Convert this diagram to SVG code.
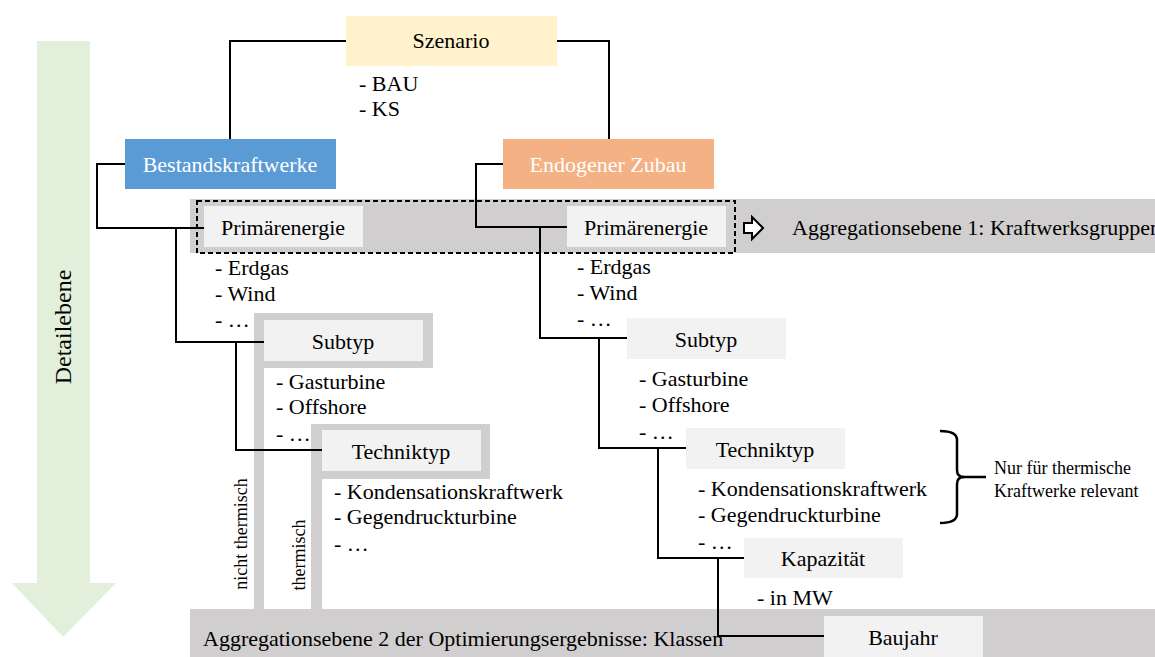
<svg xmlns="http://www.w3.org/2000/svg" width="1155" height="657" viewBox="0 0 1155 657">
  <style>
    text { font-family: "Liberation Serif", "Times New Roman", serif; fill: #000; }
    .t { font-size: 22px; }
    .c { text-anchor: middle; }
    .w { fill: #fff; }
    .s { font-size: 18px; }
    .box { fill: #F2F2F2; }
    .band { fill: #D0CECE; }
    .conn { fill: none; stroke: #000; stroke-width: 2; }
  </style>

  <!-- detail level arrow -->
  <g id="detail-arrow">
    <polygon points="37,41 90,41 90,583 116,583 63,637 12,583 37,583" fill="#E2EFDA"/>
    <text class="t" transform="translate(71,327) rotate(-90)" text-anchor="middle" style="font-size:24px">Detailebene</text>
  </g>

  <!-- aggregation bands -->
  <g id="band-1">
    <rect class="band" x="190" y="199" width="965" height="54"/>
    <rect x="197" y="201" width="538" height="52" fill="none" stroke="#000" stroke-width="2" stroke-dasharray="5,3"/>
    <polygon points="744,223 752,223 752,217 763,228 752,239 752,233 744,233" fill="#fff" stroke="#000" stroke-width="2" stroke-linejoin="miter"/>
    <text class="t" x="792" y="235">Aggregationsebene 1: Kraftwerksgruppen</text>
  </g>
  <g id="band-2">
    <rect class="band" x="190" y="609" width="965" height="48"/>
    <text class="t" x="203" y="646">Aggregationsebene 2 der Optimierungsergebnisse: Klassen</text>
  </g>

  <!-- thermal / non-thermal lanes -->
  <g id="lane-nicht-thermisch">
    <rect class="band" x="254" y="313" width="179" height="55"/>
    <rect class="band" x="254" y="360" width="10" height="249"/>
    <text class="s" transform="translate(247,534) rotate(-90)" text-anchor="middle">nicht thermisch</text>
  </g>
  <g id="lane-thermisch">
    <rect class="band" x="311" y="424" width="179" height="55"/>
    <rect class="band" x="311" y="470" width="11" height="139"/>
    <text class="s" transform="translate(305,555) rotate(-90)" text-anchor="middle">thermisch</text>
  </g>

  <!-- connectors -->
  <g id="connectors">
    <polyline class="conn" points="346,41 230,41 230,139"/>
    <polyline class="conn" points="557,41 609,41 609,139"/>
    <polyline class="conn" points="125,164 97,164 97,228 204,228"/>
    <polyline class="conn" points="176,228 176,342 264,342"/>
    <polyline class="conn" points="236,342 236,450 322,450"/>
    <polyline class="conn" points="503,164 476,164 476,227 567,227"/>
    <polyline class="conn" points="540,227 540,338 627,338"/>
    <polyline class="conn" points="599,338 599,448 686,448"/>
    <polyline class="conn" points="658,448 658,558 744,558"/>
    <polyline class="conn" points="718,558 718,636 824,636"/>
  </g>

  <!-- scenario -->
  <g id="szenario">
    <rect x="346" y="16" width="211" height="50" fill="#FFF2CC"/>
    <text class="t c" x="451" y="48">Szenario</text>
    <text class="t" x="359" y="91">- BAU</text>
    <text class="t" x="359" y="116">- KS</text>
  </g>

  <g id="bestandskraftwerke">
    <rect x="125" y="139" width="211" height="50" fill="#5B9BD5"/>
    <text class="t c w" x="230" y="172">Bestandskraftwerke</text>
  </g>

  <g id="endogener-zubau">
    <rect x="503" y="139" width="211" height="50" fill="#F4B183"/>
    <text class="t c w" x="608" y="172">Endogener Zubau</text>
  </g>

  <!-- existing plants branch -->
  <g id="primaerenergie-bestand">
    <rect class="box" x="204" y="206" width="159" height="41"/>
    <text class="t c" x="283" y="235">Primärenergie</text>
    <text class="t" x="215" y="275">- Erdgas</text>
    <text class="t" x="215" y="301">- Wind</text>
    <text class="t" x="215" y="327">- …</text>
  </g>
  <g id="subtyp-bestand">
    <rect class="box" x="264" y="320" width="159" height="41"/>
    <text class="t c" x="343" y="349">Subtyp</text>
    <text class="t" x="276" y="389">- Gasturbine</text>
    <text class="t" x="276" y="414">- Offshore</text>
    <text class="t" x="276" y="441">- …</text>
  </g>
  <g id="techniktyp-bestand">
    <rect class="box" x="322" y="430" width="159" height="41"/>
    <text class="t c" x="401" y="459">Techniktyp</text>
    <text class="t" x="334" y="499">- Kondensationskraftwerk</text>
    <text class="t" x="334" y="524">- Gegendruckturbine</text>
    <text class="t" x="334" y="551">- …</text>
  </g>

  <!-- new build branch -->
  <g id="primaerenergie-zubau">
    <rect class="box" x="567" y="206" width="159" height="41"/>
    <text class="t c" x="646" y="235">Primärenergie</text>
    <text class="t" x="577" y="274">- Erdgas</text>
    <text class="t" x="577" y="300">- Wind</text>
    <text class="t" x="577" y="326">- …</text>
  </g>
  <g id="subtyp-zubau">
    <rect class="box" x="627" y="318" width="159" height="41"/>
    <text class="t c" x="706" y="347">Subtyp</text>
    <text class="t" x="639" y="386">- Gasturbine</text>
    <text class="t" x="639" y="412">- Offshore</text>
    <text class="t" x="639" y="439">- …</text>
  </g>
  <g id="techniktyp-zubau">
    <rect class="box" x="686" y="428" width="159" height="41"/>
    <text class="t c" x="765" y="457">Techniktyp</text>
    <text class="t" x="698" y="496">- Kondensationskraftwerk</text>
    <text class="t" x="698" y="522">- Gegendruckturbine</text>
    <text class="t" x="698" y="549">- …</text>
  </g>
  <g id="kapazitaet">
    <rect class="box" x="744" y="538" width="159" height="40"/>
    <text class="t c" x="823" y="566">Kapazität</text>
    <text class="t" x="757" y="605">- in MW</text>
  </g>
  <g id="baujahr">
    <rect class="box" x="824" y="616" width="159" height="41"/>
    <text class="t c" x="903" y="645">Baujahr</text>
  </g>

  <!-- note on thermal plants -->
  <g id="hinweis-thermisch">
    <path d="M940,431 Q957,431 957,440 L957,470 Q957,477 964,477 Q957,477 957,484 L957,514 Q957,523 940,523" fill="none" stroke="#000" stroke-width="2.5"/>
    <line x1="962" y1="477" x2="986" y2="477" stroke="#000" stroke-width="2.5"/>
    <text class="s" x="994" y="474">Nur für thermische</text>
    <text class="s" x="994" y="497">Kraftwerke relevant</text>
  </g>
</svg>
